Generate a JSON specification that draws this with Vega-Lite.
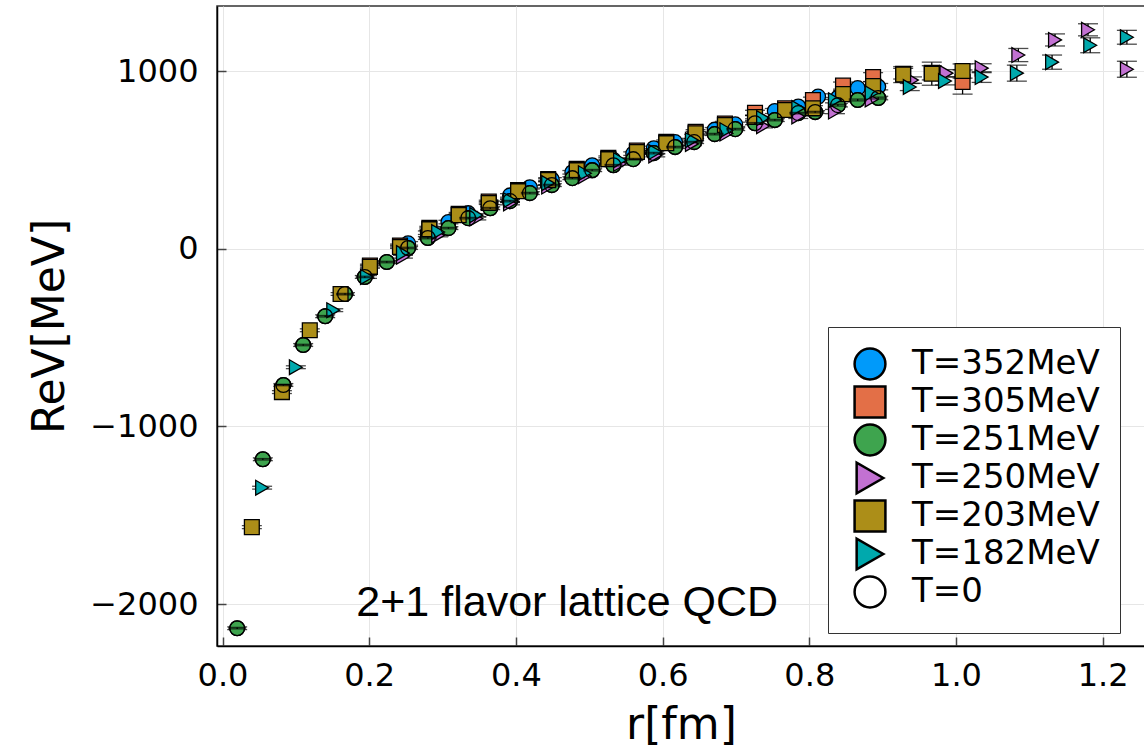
{
  "$schema": "https://vega.github.io/schema/vega-lite/v6.json",
  "width": 928,
  "height": 640,
  "autosize": {"type": "none"},
  "padding": {"left": 217, "top": 6, "right": 0, "bottom": 102},
  "background": "white",
  "config": {
    "view": {"stroke": "#333", "strokeWidth": 1.5},
    "font": "DejaVu Sans",
    "axis": {
      "domainColor": "black", "domainWidth": 1.5,
      "gridColor": "#e6e6e6", "gridWidth": 1,
      "tickColor": "#444", "tickWidth": 1.5, "tickSize": -9,
      "labelFont": "DejaVu Sans", "labelFontSize": 32, "labelColor": "black",
      "titleFont": "DejaVu Sans", "titleFontSize": 44, "titleFontWeight": "normal", "titleColor": "black"
    },
    "axisX": {"labelPadding": 23, "titlePadding": 12},
    "axisY": {"labelPadding": 28, "titlePadding": 17},
    "legend": {
      "labelFont": "DejaVu Sans", "labelFontSize": 34, "labelColor": "black", "labelOffset": 25, "labelLimit": 0,
      "symbolSize": 950, "symbolStrokeColor": "black", "symbolStrokeWidth": 2.5, "symbolOffset": 5,
      "strokeColor": "#333", "fillColor": "white", "padding": 20, "rowPadding": -10
    }
  },
  "datasets": {
    "pts": [
      {"T": "T=352MeV", "r": 0.253, "V": 30, "err": 10},
      {"T": "T=352MeV", "r": 0.280, "V": 90, "err": 10},
      {"T": "T=352MeV", "r": 0.308, "V": 150, "err": 10},
      {"T": "T=352MeV", "r": 0.335, "V": 200, "err": 10},
      {"T": "T=352MeV", "r": 0.365, "V": 258, "err": 10},
      {"T": "T=352MeV", "r": 0.392, "V": 300, "err": 10},
      {"T": "T=352MeV", "r": 0.419, "V": 346, "err": 10},
      {"T": "T=352MeV", "r": 0.449, "V": 390, "err": 10},
      {"T": "T=352MeV", "r": 0.477, "V": 430, "err": 10},
      {"T": "T=352MeV", "r": 0.504, "V": 470, "err": 10},
      {"T": "T=352MeV", "r": 0.533, "V": 500, "err": 10},
      {"T": "T=352MeV", "r": 0.560, "V": 535, "err": 10},
      {"T": "T=352MeV", "r": 0.588, "V": 565, "err": 12},
      {"T": "T=352MeV", "r": 0.617, "V": 600, "err": 12},
      {"T": "T=352MeV", "r": 0.643, "V": 632, "err": 12},
      {"T": "T=352MeV", "r": 0.671, "V": 670, "err": 12},
      {"T": "T=352MeV", "r": 0.699, "V": 700, "err": 12},
      {"T": "T=352MeV", "r": 0.726, "V": 735, "err": 14},
      {"T": "T=352MeV", "r": 0.753, "V": 775, "err": 14},
      {"T": "T=352MeV", "r": 0.785, "V": 800, "err": 15},
      {"T": "T=352MeV", "r": 0.812, "V": 856, "err": 16},
      {"T": "T=352MeV", "r": 0.839, "V": 850, "err": 16},
      {"T": "T=352MeV", "r": 0.866, "V": 904, "err": 18},
      {"T": "T=352MeV", "r": 0.894, "V": 912, "err": 18},
      {"T": "T=305MeV", "r": 0.201, "V": -95, "err": 8},
      {"T": "T=305MeV", "r": 0.242, "V": 18, "err": 8},
      {"T": "T=305MeV", "r": 0.282, "V": 118, "err": 8},
      {"T": "T=305MeV", "r": 0.322, "V": 196, "err": 8},
      {"T": "T=305MeV", "r": 0.363, "V": 265, "err": 8},
      {"T": "T=305MeV", "r": 0.403, "V": 330, "err": 8},
      {"T": "T=305MeV", "r": 0.444, "V": 392, "err": 8},
      {"T": "T=305MeV", "r": 0.483, "V": 450, "err": 10},
      {"T": "T=305MeV", "r": 0.526, "V": 512, "err": 10},
      {"T": "T=305MeV", "r": 0.565, "V": 552, "err": 10},
      {"T": "T=305MeV", "r": 0.605, "V": 602, "err": 10},
      {"T": "T=305MeV", "r": 0.645, "V": 658, "err": 12},
      {"T": "T=305MeV", "r": 0.685, "V": 705, "err": 12},
      {"T": "T=305MeV", "r": 0.726, "V": 765, "err": 14},
      {"T": "T=305MeV", "r": 0.767, "V": 790, "err": 14},
      {"T": "T=305MeV", "r": 0.805, "V": 837, "err": 16},
      {"T": "T=305MeV", "r": 0.846, "V": 918, "err": 20},
      {"T": "T=305MeV", "r": 0.887, "V": 966, "err": 25},
      {"T": "T=305MeV", "r": 0.928, "V": 985, "err": 30},
      {"T": "T=305MeV", "r": 0.967, "V": 990, "err": 40},
      {"T": "T=305MeV", "r": 1.009, "V": 938, "err": 68},
      {"T": "T=251MeV", "r": 0.020, "V": -2136, "err": 8},
      {"T": "T=251MeV", "r": 0.055, "V": -1185, "err": 8},
      {"T": "T=251MeV", "r": 0.083, "V": -767, "err": 8},
      {"T": "T=251MeV", "r": 0.110, "V": -542, "err": 8},
      {"T": "T=251MeV", "r": 0.140, "V": -380, "err": 8},
      {"T": "T=251MeV", "r": 0.167, "V": -255, "err": 8},
      {"T": "T=251MeV", "r": 0.194, "V": -159, "err": 8},
      {"T": "T=251MeV", "r": 0.224, "V": -75, "err": 8},
      {"T": "T=251MeV", "r": 0.253, "V": 4, "err": 8},
      {"T": "T=251MeV", "r": 0.280, "V": 60, "err": 8},
      {"T": "T=251MeV", "r": 0.308, "V": 116, "err": 8},
      {"T": "T=251MeV", "r": 0.335, "V": 172, "err": 8},
      {"T": "T=251MeV", "r": 0.365, "V": 228, "err": 8},
      {"T": "T=251MeV", "r": 0.392, "V": 268, "err": 8},
      {"T": "T=251MeV", "r": 0.419, "V": 313, "err": 8},
      {"T": "T=251MeV", "r": 0.449, "V": 358, "err": 8},
      {"T": "T=251MeV", "r": 0.477, "V": 397, "err": 8},
      {"T": "T=251MeV", "r": 0.504, "V": 442, "err": 8},
      {"T": "T=251MeV", "r": 0.533, "V": 470, "err": 8},
      {"T": "T=251MeV", "r": 0.560, "V": 504, "err": 8},
      {"T": "T=251MeV", "r": 0.588, "V": 538, "err": 8},
      {"T": "T=251MeV", "r": 0.617, "V": 572, "err": 8},
      {"T": "T=251MeV", "r": 0.643, "V": 600, "err": 8},
      {"T": "T=251MeV", "r": 0.671, "V": 645, "err": 8},
      {"T": "T=251MeV", "r": 0.699, "V": 673, "err": 8},
      {"T": "T=251MeV", "r": 0.726, "V": 706, "err": 8},
      {"T": "T=251MeV", "r": 0.753, "V": 724, "err": 8},
      {"T": "T=251MeV", "r": 0.785, "V": 763, "err": 8},
      {"T": "T=251MeV", "r": 0.808, "V": 769, "err": 8},
      {"T": "T=251MeV", "r": 0.839, "V": 808, "err": 10},
      {"T": "T=251MeV", "r": 0.866, "V": 837, "err": 10},
      {"T": "T=251MeV", "r": 0.894, "V": 848, "err": 10},
      {"T": "T=250MeV", "r": 0.246, "V": -45, "err": 8},
      {"T": "T=250MeV", "r": 0.294, "V": 75, "err": 8},
      {"T": "T=250MeV", "r": 0.346, "V": 170, "err": 8},
      {"T": "T=250MeV", "r": 0.392, "V": 255, "err": 8},
      {"T": "T=250MeV", "r": 0.444, "V": 350, "err": 8},
      {"T": "T=250MeV", "r": 0.494, "V": 408, "err": 8},
      {"T": "T=250MeV", "r": 0.542, "V": 478, "err": 8},
      {"T": "T=250MeV", "r": 0.590, "V": 525, "err": 8},
      {"T": "T=250MeV", "r": 0.640, "V": 590, "err": 10},
      {"T": "T=250MeV", "r": 0.687, "V": 648, "err": 10},
      {"T": "T=250MeV", "r": 0.737, "V": 690, "err": 10},
      {"T": "T=250MeV", "r": 0.785, "V": 745, "err": 12},
      {"T": "T=250MeV", "r": 0.835, "V": 772, "err": 12},
      {"T": "T=250MeV", "r": 0.885, "V": 840, "err": 15},
      {"T": "T=250MeV", "r": 0.940, "V": 949, "err": 18},
      {"T": "T=250MeV", "r": 0.987, "V": 988, "err": 20},
      {"T": "T=250MeV", "r": 1.035, "V": 1016, "err": 25},
      {"T": "T=250MeV", "r": 1.085, "V": 1090, "err": 37},
      {"T": "T=250MeV", "r": 1.135, "V": 1175, "err": 34},
      {"T": "T=250MeV", "r": 1.180, "V": 1232, "err": 34},
      {"T": "T=250MeV", "r": 1.233, "V": 1010, "err": 45},
      {"T": "T=203MeV", "r": 0.040, "V": -1567, "err": 8},
      {"T": "T=203MeV", "r": 0.081, "V": -807, "err": 8},
      {"T": "T=203MeV", "r": 0.119, "V": -459, "err": 8},
      {"T": "T=203MeV", "r": 0.161, "V": -255, "err": 8},
      {"T": "T=203MeV", "r": 0.201, "V": -102, "err": 8},
      {"T": "T=203MeV", "r": 0.242, "V": 10, "err": 8},
      {"T": "T=203MeV", "r": 0.282, "V": 110, "err": 8},
      {"T": "T=203MeV", "r": 0.322, "V": 189, "err": 8},
      {"T": "T=203MeV", "r": 0.363, "V": 257, "err": 8},
      {"T": "T=203MeV", "r": 0.403, "V": 324, "err": 8},
      {"T": "T=203MeV", "r": 0.444, "V": 386, "err": 8},
      {"T": "T=203MeV", "r": 0.483, "V": 442, "err": 8},
      {"T": "T=203MeV", "r": 0.526, "V": 504, "err": 8},
      {"T": "T=203MeV", "r": 0.565, "V": 544, "err": 8},
      {"T": "T=203MeV", "r": 0.605, "V": 594, "err": 8},
      {"T": "T=203MeV", "r": 0.645, "V": 650, "err": 10},
      {"T": "T=203MeV", "r": 0.685, "V": 696, "err": 10},
      {"T": "T=203MeV", "r": 0.726, "V": 741, "err": 10},
      {"T": "T=203MeV", "r": 0.767, "V": 781, "err": 12},
      {"T": "T=203MeV", "r": 0.805, "V": 790, "err": 15},
      {"T": "T=203MeV", "r": 0.846, "V": 870, "err": 20},
      {"T": "T=203MeV", "r": 0.887, "V": 915, "err": 25},
      {"T": "T=203MeV", "r": 0.928, "V": 980, "err": 45},
      {"T": "T=203MeV", "r": 0.967, "V": 985, "err": 65},
      {"T": "T=203MeV", "r": 1.009, "V": 1000, "err": 40},
      {"T": "T=182MeV", "r": 0.054, "V": -1345, "err": 8},
      {"T": "T=182MeV", "r": 0.100, "V": -667, "err": 8},
      {"T": "T=182MeV", "r": 0.151, "V": -346, "err": 8},
      {"T": "T=182MeV", "r": 0.197, "V": -159, "err": 8},
      {"T": "T=182MeV", "r": 0.246, "V": -25, "err": 8},
      {"T": "T=182MeV", "r": 0.294, "V": 94, "err": 8},
      {"T": "T=182MeV", "r": 0.346, "V": 189, "err": 8},
      {"T": "T=182MeV", "r": 0.392, "V": 273, "err": 8},
      {"T": "T=182MeV", "r": 0.444, "V": 369, "err": 8},
      {"T": "T=182MeV", "r": 0.494, "V": 425, "err": 8},
      {"T": "T=182MeV", "r": 0.542, "V": 498, "err": 8},
      {"T": "T=182MeV", "r": 0.590, "V": 544, "err": 8},
      {"T": "T=182MeV", "r": 0.640, "V": 611, "err": 10},
      {"T": "T=182MeV", "r": 0.687, "V": 667, "err": 10},
      {"T": "T=182MeV", "r": 0.737, "V": 735, "err": 10},
      {"T": "T=182MeV", "r": 0.785, "V": 791, "err": 12},
      {"T": "T=182MeV", "r": 0.835, "V": 836, "err": 15},
      {"T": "T=182MeV", "r": 0.885, "V": 875, "err": 15},
      {"T": "T=182MeV", "r": 0.937, "V": 910, "err": 20},
      {"T": "T=182MeV", "r": 0.985, "V": 944, "err": 22},
      {"T": "T=182MeV", "r": 1.035, "V": 966, "err": 30},
      {"T": "T=182MeV", "r": 1.083, "V": 988, "err": 45},
      {"T": "T=182MeV", "r": 1.131, "V": 1050, "err": 40},
      {"T": "T=182MeV", "r": 1.183, "V": 1145, "err": 42},
      {"T": "T=182MeV", "r": 1.233, "V": 1190, "err": 39},
      {"T": "T=0", "r": 0.020, "V": -2136, "err": 4},
      {"T": "T=0", "r": 0.055, "V": -1185, "err": 4},
      {"T": "T=0", "r": 0.083, "V": -767, "err": 4},
      {"T": "T=0", "r": 0.110, "V": -542, "err": 4},
      {"T": "T=0", "r": 0.140, "V": -380, "err": 4},
      {"T": "T=0", "r": 0.167, "V": -255, "err": 4},
      {"T": "T=0", "r": 0.194, "V": -159, "err": 4},
      {"T": "T=0", "r": 0.224, "V": -75, "err": 4},
      {"T": "T=0", "r": 0.253, "V": 4, "err": 4},
      {"T": "T=0", "r": 0.280, "V": 60, "err": 4},
      {"T": "T=0", "r": 0.308, "V": 116, "err": 4},
      {"T": "T=0", "r": 0.335, "V": 172, "err": 4},
      {"T": "T=0", "r": 0.365, "V": 228, "err": 4},
      {"T": "T=0", "r": 0.392, "V": 268, "err": 4},
      {"T": "T=0", "r": 0.419, "V": 313, "err": 4},
      {"T": "T=0", "r": 0.449, "V": 358, "err": 4},
      {"T": "T=0", "r": 0.477, "V": 397, "err": 4},
      {"T": "T=0", "r": 0.504, "V": 442, "err": 4},
      {"T": "T=0", "r": 0.533, "V": 470, "err": 4},
      {"T": "T=0", "r": 0.560, "V": 504, "err": 4},
      {"T": "T=0", "r": 0.588, "V": 538, "err": 4},
      {"T": "T=0", "r": 0.617, "V": 572, "err": 4},
      {"T": "T=0", "r": 0.643, "V": 600, "err": 4},
      {"T": "T=0", "r": 0.671, "V": 645, "err": 4},
      {"T": "T=0", "r": 0.699, "V": 673, "err": 4},
      {"T": "T=0", "r": 0.726, "V": 706, "err": 4},
      {"T": "T=0", "r": 0.753, "V": 724, "err": 4},
      {"T": "T=0", "r": 0.785, "V": 763, "err": 4},
      {"T": "T=0", "r": 0.808, "V": 769, "err": 4},
      {"T": "T=0", "r": 0.839, "V": 808, "err": 5},
      {"T": "T=0", "r": 0.866, "V": 837, "err": 5},
      {"T": "T=0", "r": 0.894, "V": 848, "err": 5}
    ]
  },
  "data": {"name": "pts"},
  "encoding": {
    "x": {
      "field": "r", "type": "quantitative",
      "scale": {"domain": [-0.0075, 1.2577], "nice": false, "zero": false},
      "axis": {"values": [0, 0.2, 0.4, 0.6, 0.8, 1.0, 1.2], "format": ".1f", "title": "r[fm]"}
    },
    "y": {
      "field": "V", "type": "quantitative",
      "scale": {"domain": [-2236, 1366], "nice": false, "zero": false},
      "axis": {"values": [-2000, -1000, 0, 1000], "format": "d", "title": "ReV[MeV]"}
    }
  },
  "layer": [
    {
      "transform": [{"filter": "datum.T != 'T=0'"}],
      "mark": {"type": "errorbar", "ticks": {"size": 20}, "color": "black", "thickness": 1.3},
      "encoding": {"yError": {"field": "err"}}
    },
    {
      "mark": {"type": "point", "filled": true, "stroke": "black", "strokeWidth": 1.3, "opacity": 1, "size": 220},
      "encoding": {
        "color": {
          "field": "T", "type": "nominal",
          "scale": {
            "domain": ["T=352MeV", "T=305MeV", "T=251MeV", "T=250MeV", "T=203MeV", "T=182MeV", "T=0"],
            "range": ["#009AFA", "#E36F47", "#3EA44E", "#C271D2", "#AC8E18", "#00A9AD", "transparent"]
          },
          "legend": {"title": null, "orient": "none", "legendX": 611, "legendY": 321}
        },
        "shape": {
          "field": "T", "type": "nominal",
          "scale": {
            "domain": ["T=352MeV", "T=305MeV", "T=251MeV", "T=250MeV", "T=203MeV", "T=182MeV", "T=0"],
            "range": ["circle", "square", "circle", "triangle-right", "square", "triangle-right", "circle"]
          },
          "legend": {"title": null, "orient": "none", "legendX": 611, "legendY": 321}
        }
      }
    },
    {
      "transform": [{"filter": "datum.T == 'T=0'"}],
      "mark": {"type": "errorbar", "ticks": {"size": 18}, "color": "black", "thickness": 1.3},
      "encoding": {"yError": {"field": "err"}}
    },
    {
      "data": {"values": [{"r": 0.470, "V": -1994, "label": "2+1 flavor lattice QCD"}]},
      "mark": {"type": "text", "font": "Liberation Sans", "fontSize": 43, "align": "center", "baseline": "middle", "color": "black"},
      "encoding": {"text": {"field": "label"}}
    }
  ]
}
